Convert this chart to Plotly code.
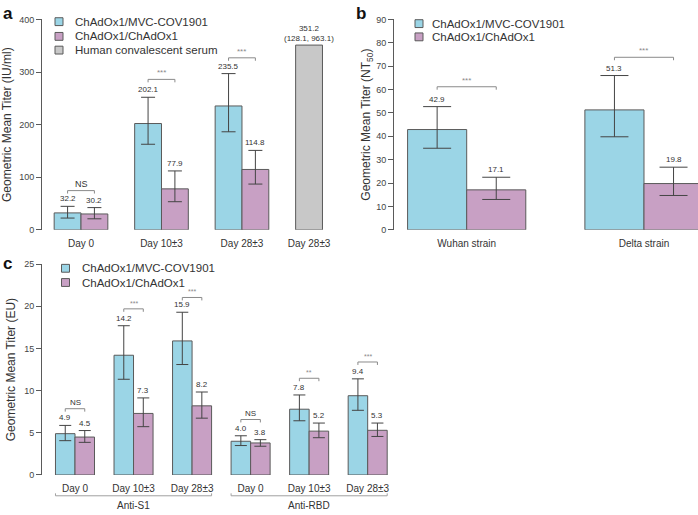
import plotly.graph_objects as go

# ---- data ----
# panel a: anti-spike IgG (IU/ml)
a_days = ["Day 0", "Day 10±3", "Day 28±3"]
a_mvc = [32.2, 202.1, 235.5]
a_mvc_lo = [22.4, 162.7, 186.4]
a_mvc_hi = [44.7, 252.0, 297.0]
a_chad = [30.2, 77.9, 114.8]
a_chad_lo = [21.0, 53.5, 87.0]
a_chad_hi = [42.3, 112.0, 151.0]
a_sig = ["NS", "***", "***"]
a_sig_y = [74.6, 286.0, 327.0]
serum_day = "Day 28±3"
serum_gmt = [351.2]
serum_ci = [(128.1, 963.1)]

# panel b: neutralising titres (NT50)
b_strains = ["Wuhan strain", "Delta strain"]
b_mvc = [42.9, 51.3]
b_mvc_lo = [34.9, 39.8]
b_mvc_hi = [52.7, 66.0]
b_chad = [17.1, 19.8]
b_chad_lo = [13.0, 14.7]
b_chad_hi = [22.5, 26.8]
b_sig = ["***", "***"]
b_sig_y = [61.2, 73.8]

# panel c: ELISA units, anti-S1 and anti-RBD
c_groups = ["Anti-S1", "Anti-RBD"]
c_days = ["Day 0", "Day 10±3", "Day 28±3", "Day 0", "Day 10±3", "Day 28±3"]
c_mvc = [4.9, 14.2, 15.9, 4.0, 7.8, 9.4]
c_mvc_lo = [4.07, 11.35, 13.1, 3.49, 6.43, 7.67]
c_mvc_hi = [5.88, 17.7, 19.3, 4.65, 9.49, 11.4]
c_chad = [4.5, 7.3, 8.2, 3.8, 5.2, 5.3]
c_chad_lo = [3.87, 5.73, 6.74, 3.41, 4.42, 4.57]
c_chad_hi = [5.27, 9.14, 9.84, 4.19, 6.16, 6.16]
c_sig = ["NS", "***", "***", "NS", "**", "***"]
c_sig_y = [7.86, 19.7, 21.05, 6.58, 11.47, 13.4]

MVC_NAME = "ChAdOx1/MVC-COV1901"
CHAD_NAME = "ChAdOx1/ChAdOx1"
SERUM_NAME = "Human convalescent serum"

CYAN = "#9bd5e6"
PURPLE = "#c8a0c4"
GREY = "#c8c8c8"
EDGE = "#5a5a5a"
ERR = "#444444"
TXT = "#333333"
FONT = "Liberation Sans, Arial, sans-serif"

W, H = 698, 515
BW = 1 / 3  # bar width in category units


def fx(px):
    return px / W


def fy(py):
    return 1 - py / H


fig = go.Figure()
annotations = []
shapes = []


def add_bars(xa, ya, vals, lo, hi, color, offset, capw, name):
    idx = list(range(len(vals)))
    fig.add_trace(go.Bar(
        x=idx, y=vals, width=BW, offset=offset,
        marker=dict(color=color, line=dict(color=EDGE, width=1)),
        error_y=dict(type="data", symmetric=False,
                     array=[h - v for h, v in zip(hi, vals)],
                     arrayminus=[v - l for v, l in zip(vals, lo)],
                     color=ERR, thickness=1, width=capw),
        name=name, showlegend=False, xaxis=xa, yaxis=ya,
    ))
    for i, v, h in zip(idx, vals, hi):
        annotations.append(dict(
            x=i + offset + BW / 2, y=h, xref=xa, yref=ya, text=f"{v:.1f}",
            showarrow=False, yanchor="bottom", yshift=1,
            font=dict(size=8, color=TXT)))


def add_sig(xa, ya, sig, sig_y, tick, fsize):
    for i, (s, y) in enumerate(zip(sig, sig_y)):
        x0, x1 = i - BW / 2, i + BW / 2
        fig.add_trace(go.Scatter(
            x=[x0, x0, x1, x1], y=[y - tick, y, y, y - tick], mode="lines",
            line=dict(color="#8a8a8a", width=1), hoverinfo="skip",
            showlegend=False, xaxis=xa, yaxis=ya))
        annotations.append(dict(
            x=i, y=y, xref=xa, yref=ya, text=s, showarrow=False,
            yanchor="bottom", yshift=0,
            font=dict(size=fsize if s == "NS" else fsize - 1,
                      color=TXT if s == "NS" else "#8a8a8a")))


def add_legend(items, sq_x, text_x, ys):
    for (name, color), y in zip(items, ys):
        shapes.append(dict(type="rect", xref="paper", yref="paper",
                           x0=fx(sq_x - 4), x1=fx(sq_x + 4),
                           y0=fy(y + 4), y1=fy(y - 4),
                           fillcolor=color, line=dict(color=EDGE, width=1)))
        annotations.append(dict(x=fx(text_x), y=fy(y), xref="paper", yref="paper",
                                text=name, showarrow=False, xanchor="left",
                                yanchor="middle", font=dict(size=11.5, color=TXT)))


# ---- panel a ----
add_bars("x", "y", a_mvc, a_mvc_lo, a_mvc_hi, CYAN, -BW, 7, MVC_NAME)
add_bars("x", "y", a_chad, a_chad_lo, a_chad_hi, PURPLE, 0, 7, CHAD_NAME)
s_idx = [len(a_days) + i for i in range(len(serum_gmt))]
fig.add_trace(go.Bar(
    x=s_idx, y=serum_gmt, width=BW, offset=-BW,
    marker=dict(color=GREY, line=dict(color=EDGE, width=1)),
    name=SERUM_NAME, showlegend=False, xaxis="x", yaxis="y"))
for i, v, (lo, hi) in zip(s_idx, serum_gmt, serum_ci):
    annotations.append(dict(
        x=i - BW / 2, y=v, xref="x", yref="y",
        text=f"{v:.1f}<br>({lo:.1f}, {hi:.1f})", showarrow=False,
        yanchor="bottom", yshift=0, font=dict(size=8, color=TXT)))
add_sig("x", "y", a_sig, a_sig_y, 3 * 400 / 214.6, 9)

# ---- panel b ----
add_bars("x2", "y2", b_mvc, b_mvc_lo, b_mvc_hi, CYAN, -BW, 14, MVC_NAME)
add_bars("x2", "y2", b_chad, b_chad_lo, b_chad_hi, PURPLE, 0, 14, CHAD_NAME)
add_sig("x2", "y2", b_sig, b_sig_y, 3 * 90 / 214.6, 9)

# ---- panel c ----
add_bars("x3", "y3", c_mvc, c_mvc_lo, c_mvc_hi, CYAN, -BW, 6, MVC_NAME)
add_bars("x3", "y3", c_chad, c_chad_lo, c_chad_hi, PURPLE, 0, 6, CHAD_NAME)
add_sig("x3", "y3", c_sig, c_sig_y, 3 * 25 / 215, 8)
# group brackets under the day labels
per = len(c_days) // len(c_groups)
for g, name in enumerate(c_groups):
    x0 = g * per - BW
    x1 = g * per + per - 1 + BW
    shapes.append(dict(type="path", xref="x3", yref="paper",
                       path=f"M{x0},{fy(498)} L{x0},{fy(500.5)} L{x1},{fy(500.5)} L{x1},{fy(498)}",
                       line=dict(color="#a0a0a0", width=1)))
    annotations.append(dict(x=g * per + (per - 1) / 2, y=fy(510), xref="x3", yref="paper",
                            text=name, showarrow=False, yanchor="middle",
                            font=dict(size=10, color=TXT)))

# legends
add_legend([(MVC_NAME, CYAN), (CHAD_NAME, PURPLE), (SERUM_NAME, GREY)], 59, 73, [17, 32, 46])
add_legend([(MVC_NAME, CYAN), (CHAD_NAME, PURPLE)], 419, 430, [19, 32.5])
add_legend([(MVC_NAME, CYAN), (CHAD_NAME, PURPLE)], 65.5, 80, [268.5, 283])

# panel letters
for letter, px, py in [("a", 1, 9), ("b", 354, 9), ("c", 1, 264)]:
    annotations.append(dict(x=fx(px), y=fy(py), xref="paper", yref="paper",
                            text=f"<b>{letter}</b>", showarrow=False,
                            xanchor="left", yanchor="middle",
                            font=dict(size=17, color="#111")))


def yax(domain, rng, dtick, title, anchor, standoff):
    return dict(domain=domain, range=rng, dtick=dtick, anchor=anchor,
                showline=True, linecolor=EDGE, linewidth=1, ticks="outside",
                ticklen=5, tickcolor=EDGE, showgrid=False, zeroline=False,
                tickfont=dict(size=9, color="#444"),
                title=dict(text=title, font=dict(size=12, color=TXT), standoff=standoff))


def xax(domain, rng, tickvals, ticktext, anchor):
    return dict(domain=domain, range=rng, anchor=anchor, showline=False,
                showgrid=False, zeroline=False, ticks="", tickvals=tickvals,
                ticktext=ticktext, ticklabelstandoff=6,
                tickfont=dict(size=10, color=TXT))


fig.update_layout(
    width=W, height=H,
    margin=dict(l=0, r=0, t=0, b=0),
    paper_bgcolor="white", plot_bgcolor="white",
    font=dict(family=FONT, color=TXT),
    barmode="overlay",
    showlegend=False,
    xaxis=xax([fx(42), fx(331)], [-0.4845, 3.106],
              list(range(len(a_days))) + [i - BW / 2 for i in s_idx],
              a_days + [serum_day], "y"),
    yaxis=yax([fy(229.3), fy(14.7)], [0, 400], 100,
              "Geometric Mean Titer (IU/ml)", "x", 5),
    xaxis2=xax([fx(394), 1], [-0.41, 1.3046], list(range(len(b_strains))),
               b_strains, "y2"),
    yaxis2=yax([fy(229.3), fy(14.7)], [0, 90], 10,
               "Geometric Mean Titer (NT<sub>50</sub>)", "x2", 2),
    xaxis3=xax([fx(42), fx(398)], [-0.5637, 5.518], list(range(len(c_days))),
               c_days, "y3"),
    yaxis3=yax([fy(479.3), fy(264.3)], [0, 25], 5,
               "Geometric Mean Titer (EU)", "x3", 5),
    annotations=annotations,
    shapes=shapes,
)

# the default page has an 8px body margin; drop it so the figure sits at 0,0
fig.write_html("out.html", config={"displayModeBar": False},
               post_script="document.body.style.margin='0';")
